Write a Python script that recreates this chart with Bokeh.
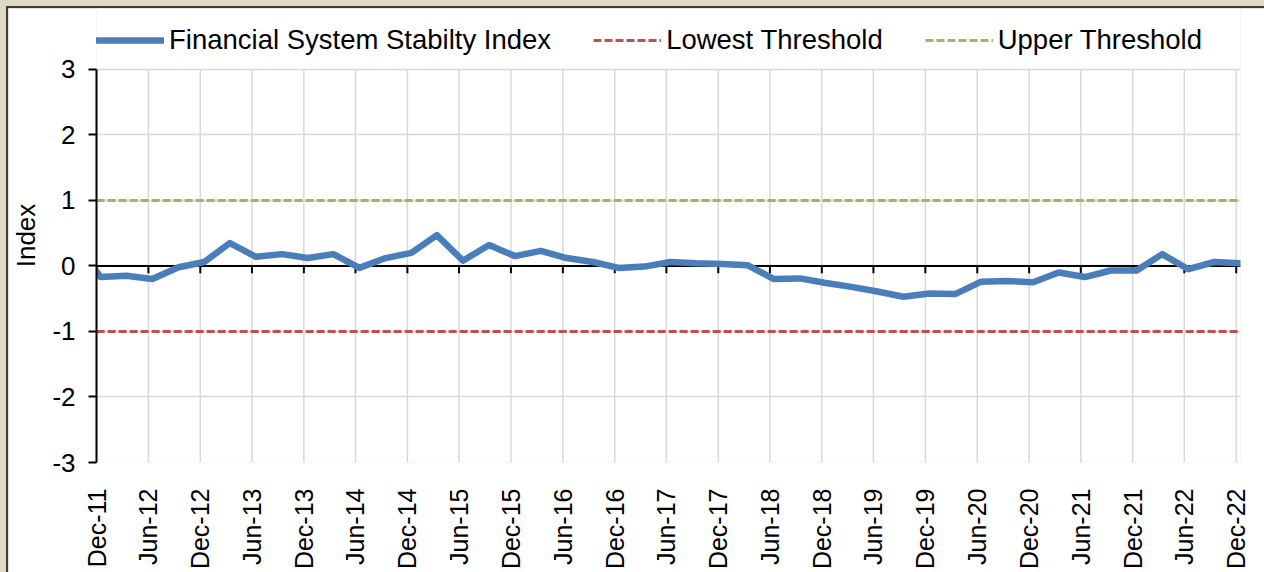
from datetime import datetime, timedelta
from math import pi

from bokeh.plotting import figure
from bokeh.models import (Range1d, FixedTicker, DatetimeTickFormatter, Span,
                          Legend, LegendItem, CustomJSTickFormatter)
from bokeh.embed import file_html
from bokeh.resources import INLINE

# ---------------- data ----------------
quarters = ["Sep-11",
            "Dec-11", "Mar-12", "Jun-12", "Sep-12", "Dec-12", "Mar-13", "Jun-13", "Sep-13",
            "Dec-13", "Mar-14", "Jun-14", "Sep-14", "Dec-14", "Mar-15", "Jun-15", "Sep-15",
            "Dec-15", "Mar-16", "Jun-16", "Sep-16", "Dec-16", "Mar-17", "Jun-17", "Sep-17",
            "Dec-17", "Mar-18", "Jun-18", "Sep-18", "Dec-18", "Mar-19", "Jun-19", "Sep-19",
            "Dec-19", "Mar-20", "Jun-20", "Sep-20", "Dec-20", "Mar-21", "Jun-21", "Sep-21",
            "Dec-21", "Mar-22", "Jun-22", "Sep-22", "Dec-22"]
fssi = [0.40,
        -0.17, -0.15, -0.20, -0.02, 0.06, 0.35, 0.14, 0.18,
        0.12, 0.18, -0.03, 0.12, 0.20, 0.47, 0.08, 0.32,
        0.15, 0.23, 0.12, 0.06, -0.03, -0.01, 0.06, 0.04,
        0.03, 0.01, -0.20, -0.19, -0.26, -0.32, -0.39, -0.47,
        -0.42, -0.43, -0.24, -0.23, -0.25, -0.10, -0.17, -0.07,
        -0.07, 0.18, -0.05, 0.06, 0.04]
tick_labels = ["Dec-11", "Jun-12", "Dec-12", "Jun-13", "Dec-13", "Jun-14", "Dec-14",
               "Jun-15", "Dec-15", "Jun-16", "Dec-16", "Jun-17", "Dec-17", "Jun-18",
               "Dec-18", "Jun-19", "Dec-19", "Jun-20", "Dec-20", "Jun-21", "Dec-21",
               "Jun-22", "Dec-22"]
y_ticks = [-3, -2, -1, 0, 1, 2, 3]
lowest_threshold = -1.0
upper_threshold = 1.0

FONT = "Liberation Sans"
BLUE = "#4A7EBB"
RED = "#C0504D"
GREEN = "#9BBB59"
GRID = "#D9D9D9"
BEIGE = "#DDD9C3"

# layout (pixels inside the 1256x564 canvas)
FIG_W, FIG_H = 1256, 564
LEFT, RIGHT, BOTTOM = 88, 24, 109
PLOT_TOP = 61                       # where y = 3 sits
FRAME_H = FIG_H - BOTTOM            # frame starts at the canvas top (legend lives inside)
Y_MIN, Y_MAX = y_ticks[0], y_ticks[-1]
px_per_unit = (FRAME_H - PLOT_TOP) / (Y_MAX - Y_MIN)
y_top = Y_MAX + PLOT_TOP / px_per_unit

# data plotted mid-month, ticks on the first of the month
dates = [datetime.strptime(q, "%b-%y") + timedelta(days=14) for q in quarters]
tick_dates = [datetime.strptime(t, "%b-%y") for t in tick_labels]
epoch = datetime(1970, 1, 1)
tick_ms = [(d - epoch).total_seconds() * 1000 for d in tick_dates]
low_series = [lowest_threshold] * len(dates)
up_series = [upper_threshold] * len(dates)

p = figure(width=FIG_W, height=FIG_H, x_axis_type="datetime",
           output_backend="svg", toolbar_location=None,
           x_range=Range1d(tick_dates[0], datetime(2022, 12, 16)),
           y_range=Range1d(Y_MIN, y_top),
           min_border_left=LEFT, min_border_right=RIGHT,
           min_border_top=0, min_border_bottom=BOTTOM)
p.outline_line_color = None
p.background_fill_color = "white"
p.border_fill_color = "white"
p.styles = {"box-shadow": "-1px -1px 0 1px #3c3c3c"}

# grids: horizontal from Grid, vertical ones limited to the -3..3 band
p.xgrid.visible = False
p.ygrid.ticker = FixedTicker(ticks=y_ticks)
p.ygrid.grid_line_color = GRID
p.ygrid.grid_line_width = 1.5
p.segment(x0=tick_dates, y0=[Y_MIN] * len(tick_dates), x1=tick_dates,
          y1=[Y_MAX] * len(tick_dates), line_color=GRID, line_width=1.5,
          level="underlay")

# zero line (category axis crossing) with its tick marks
zero = Span(location=0, dimension="width", line_color="black", line_width=2,
            level="underlay")
p.add_layout(zero)
p.segment(x0=tick_dates, y0=[0] * len(tick_dates), x1=tick_dates,
          y1=[-0.11] * len(tick_dates), line_color="black", line_width=2)

# series
r_low = p.line(dates, low_series, line_color=RED, line_width=3, line_dash="8 3")
r_up = p.line(dates, up_series, line_color=GREEN, line_width=3, line_dash="8 3")
r_idx = p.line(dates, fssi, line_color=BLUE, line_width=6.5,
               line_join="round", line_cap="round")

# axes
yax = p.yaxis[0]
yax.ticker = FixedTicker(ticks=y_ticks)
yax.bounds = (Y_MIN, Y_MAX)
yax.formatter = CustomJSTickFormatter(code="return tick.toString();")
yax.axis_line_color = "black"
yax.axis_line_width = 2
yax.major_tick_line_color = "black"
yax.major_tick_line_width = 2
yax.major_tick_out = 8
yax.major_tick_in = 0
yax.minor_tick_line_color = None
yax.major_label_text_font = FONT
yax.major_label_text_font_size = "26px"
yax.major_label_text_color = "black"
yax.major_label_standoff = 13
yax.axis_label = "Index"
yax.axis_label_text_font = FONT
yax.axis_label_text_font_size = "26px"
yax.axis_label_text_font_style = "normal"
yax.axis_label_text_color = "black"
yax.axis_label_standoff = 8

xax = p.xaxis[0]
xax.ticker = FixedTicker(ticks=tick_ms)
xax.formatter = DatetimeTickFormatter(days="%b-%y", months="%b-%y", years="%b-%y")
xax.axis_line_color = None
xax.major_tick_line_color = None
xax.minor_tick_line_color = None
xax.major_label_orientation = pi / 2
xax.major_label_standoff = 20
xax.major_label_text_font = FONT
xax.major_label_text_font_size = "25px"
xax.major_label_text_color = "black"

# legend (inside the frame, above the y = 3 line)
LEG_ITEM_H = 34
legend = Legend(items=[
    LegendItem(label="Financial System Stabilty Index", renderers=[r_idx]),
    LegendItem(label="Lowest Threshold", renderers=[r_low]),
    LegendItem(label="Upper Threshold", renderers=[r_up]),
], orientation="horizontal", location=(0, FRAME_H - 33 - LEG_ITEM_H // 2))
legend.border_line_color = None
legend.background_fill_alpha = 0
legend.padding = 0
legend.margin = 0
legend.spacing = 42
legend.glyph_width = 68
legend.glyph_height = LEG_ITEM_H
legend.label_height = LEG_ITEM_H
legend.label_standoff = 5
legend.label_text_font = FONT
legend.label_text_font_size = "27.5px"
legend.label_text_color = "black"
p.add_layout(legend)

html = file_html(p, INLINE, title="Financial System Stability Index")
css = ("<style>html, body {margin:0 !important; background-color:%s; overflow:hidden;}"
       " body {padding:8px 0 0 8px !important; box-sizing:border-box;}</style>\n</head>" % BEIGE)
html = html.replace("</head>", css, 1)
open("out.html", "w").write(html)
